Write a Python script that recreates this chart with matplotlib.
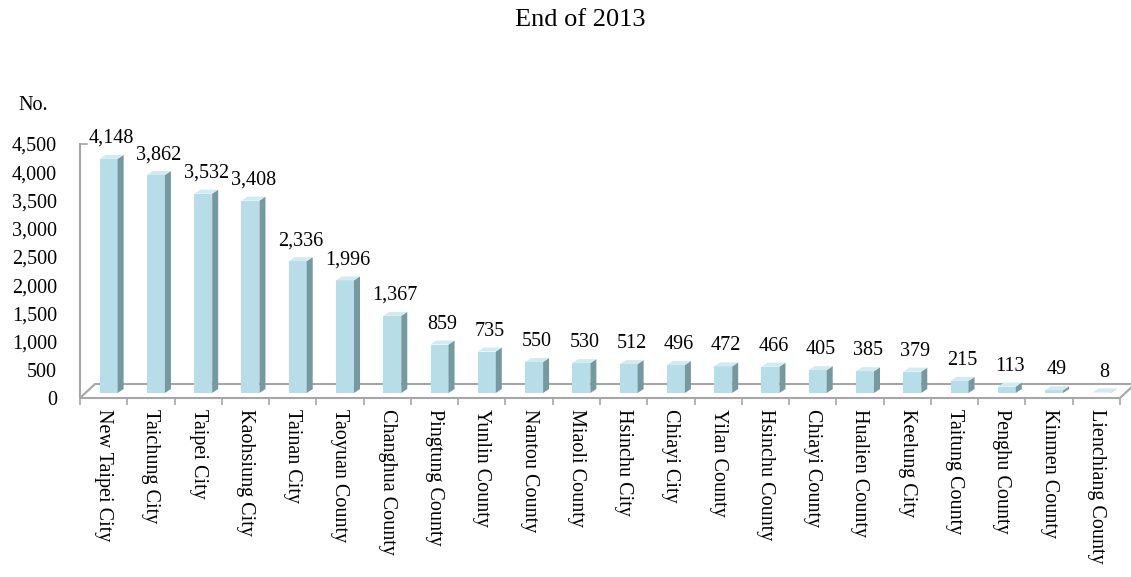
import matplotlib.pyplot as plt
from matplotlib.patches import Polygon

plt.rcParams["font.family"] = ["Liberation Serif", "DejaVu Serif"]

areas = ["New Taipei City", "Taichung City", "Taipei City", "Kaohsiung City",
         "Tainan City", "Taoyuan County", "Changhua County", "Pingtung County",
         "Yunlin County", "Nantou County", "Miaoli County", "Hsinchu City",
         "Chiayi City", "Yilan County", "Hsinchu County", "Chiayi County",
         "Hualien County", "Keelung City", "Taitung County", "Penghu County",
         "Kinmen County", "Lienchiang County"]
counts = [4148, 3862, 3532, 3408, 2336, 1996, 1367, 859, 735, 550, 530, 512,
          496, 472, 466, 405, 385, 379, 215, 113, 49, 8]
yticks = [0, 500, 1000, 1500, 2000, 2500, 3000, 3500, 4000, 4500]

W, H = 1131, 577
fig = plt.figure(figsize=(W / 100, H / 100), dpi=100)
left, right, bottom, top = 80, 1120, 398, 144
ax = fig.add_axes([left / W, (H - bottom) / H, (right - left) / W, (bottom - top) / H])

n = len(areas)
ax.set_xlim(-0.5, n - 0.5)
ax.set_ylim(0, 4500)

# pixel -> data unit conversion
px_x = n / (right - left)
px_y = 4500 / (bottom - top)

front = "#b7dde8"
side = "#76999f"
topc = "#d3eaf1"
edge = "#a6a6a6"

# floor
fdx, fdy = 15 * px_x, 14 * px_y
x0, x1 = -0.5, n - 0.5
floor = Polygon([(x0, 0), (x1, 0), (x1 + fdx, fdy), (x0 + fdx, fdy)],
                closed=True, facecolor="white", edgecolor=edge, lw=1.5,
                clip_on=False, zorder=1)
ax.add_patch(floor)

# bars with pseudo 3D faces
bw = 18 * px_x
ox, oy = 5 * px_x, 5 * px_y
dx, dy = 6 * px_x, 4 * px_y
for i, v in enumerate(counts):
    xl = i - bw / 2 + ox
    xr = xl + bw
    yb = oy
    yt = v + oy
    ax.add_patch(Polygon([(xl, yb), (xr, yb), (xr, yt), (xl, yt)],
                         facecolor=front, edgecolor="none", clip_on=False, zorder=3))
    ax.add_patch(Polygon([(xr, yb), (xr + dx, yb + dy), (xr + dx, yt + dy), (xr, yt)],
                         facecolor=side, edgecolor="none", clip_on=False, zorder=3))
    ax.add_patch(Polygon([(xl, yt), (xr, yt), (xr + dx, yt + dy), (xl + dx, yt + dy)],
                         facecolor=topc, edgecolor="none", clip_on=False, zorder=3))
    ax.annotate(f"{v:,}", (i + ox + dx / 2, yt + dy), xytext=(0, 5),
                textcoords="offset points", ha="center", va="bottom", fontsize=14.5)

# small tick at the top of the value axis
ax.plot([x0, x0 + 7 * px_x], [4500, 4500], color=edge, lw=1.2, clip_on=False)

for s in ["top", "right", "bottom"]:
    ax.spines[s].set_visible(False)
ax.spines["left"].set_color(edge)
ax.spines["left"].set_linewidth(1.5)

ax.set_yticks(yticks)
ax.set_yticklabels([f"{t:,}" for t in yticks], fontsize=14.5)
ax.tick_params(axis="y", length=0, pad=16.5)

ax.set_xticks(range(n))
ax.set_xticklabels(areas, rotation=270, fontsize=14.5, va="top", ha="center")
ax.set_xticks([i + 0.5 for i in range(-1, n)], minor=True)
ax.tick_params(axis="x", which="major", length=0, pad=8)
ax.tick_params(axis="x", which="minor", length=5, color=edge, width=1.2)
ax.patch.set_alpha(0)

fig.text(580 / W, 1 - 20 / H, "End of 2013", ha="center", va="center", fontsize=19)
fig.text(33 / W, 1 - 105 / H, "No.", ha="center", va="center", fontsize=14.5)

fig.savefig("out.png", dpi=100)
